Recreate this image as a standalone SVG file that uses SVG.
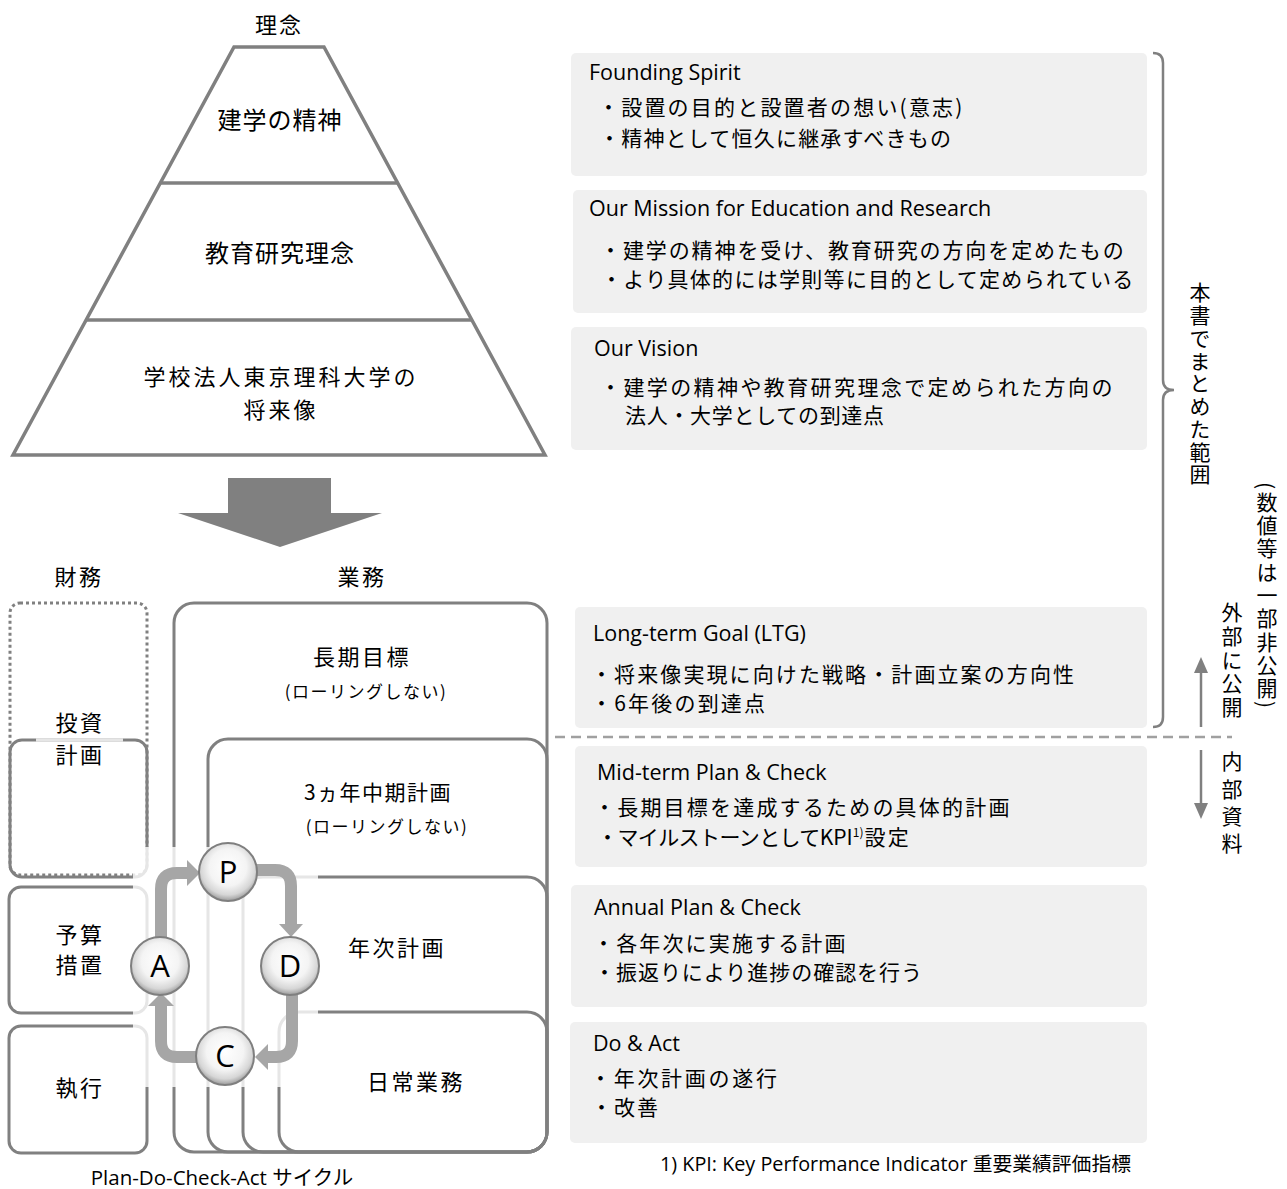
<svg xmlns="http://www.w3.org/2000/svg" width="1287" height="1189" viewBox="0 0 1287 1189">
<defs>
<style>
.pyr{fill:none;stroke:#808080;stroke-width:3.5;stroke-linejoin:miter}
.box{fill:none;stroke:#808080;stroke-width:3}
.dotbox{fill:none;stroke:#808080;stroke-width:3;stroke-dasharray:3 3}
.panel{fill:#f0f0f0}
.jp{font-family:"Noto Sans CJK JP",sans-serif;fill:#000}
.en{font-family:"Open Sans","Noto Sans CJK JP",sans-serif;fill:#000}
.pl{font-size:24px;letter-spacing:1px;text-anchor:middle}
.pl2{font-size:22px;letter-spacing:3px;text-anchor:middle}
.bl{font-size:22px;letter-spacing:2.5px;text-anchor:middle}
.sub{font-size:17px;letter-spacing:1.5px;text-anchor:middle}
.hd{font-size:21.5px}
.li{font-size:21px}
.flow{fill:none;stroke:#a6a6a6;stroke-width:12}
.head{fill:#a6a6a6}
.ball{fill:url(#ballGrad);stroke:#7f7f7f;stroke-width:2}
.pd{font-size:31px;text-anchor:middle}
.vt{font-size:21px;writing-mode:vertical-rl}
.gar{fill:#808080}
</style>
<radialGradient id="ballGrad" cx="50%" cy="42%" r="58%">
<stop offset="0" stop-color="#ffffff"/>
<stop offset="0.55" stop-color="#f4f4f4"/>
<stop offset="0.82" stop-color="#d6d6d6"/>
<stop offset="1" stop-color="#9a9a9a"/>
</radialGradient>
</defs>
<rect x="0" y="0" width="1287" height="1189" fill="#fff"/>

<!-- Pyramid -->
<g id="pyramid">
<text class="jp" x="279" y="33" font-size="22" letter-spacing="2" text-anchor="middle">理念</text>
<polygon class="pyr" points="234,47 324,47 545,455 13,455"/>
<line class="pyr" x1="161" y1="183" x2="397" y2="183"/>
<line class="pyr" x1="87" y1="320" x2="471" y2="320"/>
</g>
<g id="node-spirit"><text class="jp pl" x="280" y="129">建学の精神</text></g>
<g id="node-mission"><text class="jp pl" x="280" y="262">教育研究理念</text></g>
<g id="node-vision"><text class="jp pl2" x="281" y="385">学校法人東京理科大学の</text><text class="jp pl2" x="281" y="418">将来像</text></g>

<g id="big-arrow"><polygon class="gar" points="228,478 331,478 331,513 382,513 280,547 178,513 228,513"/></g>

<!-- column labels -->
<text class="jp bl" x="79" y="585">財務</text>
<text class="jp bl" x="362" y="585">業務</text>

<!-- Finance column -->
<g id="node-invest">
<rect class="dotbox" x="10" y="603" width="137" height="272" rx="10"/>
<rect class="box" x="10" y="740" width="137" height="137" rx="12"/>
<line x1="36" y1="740" x2="123" y2="740" stroke="#e6e6e6" stroke-width="3.5"/>
<text class="jp bl" x="80" y="731">投資</text>
<text class="jp bl" x="80" y="763">計画</text>
</g>
<g id="node-budget">
<rect class="box" x="9" y="887" width="138" height="126" rx="12"/>
<text class="jp bl" x="80" y="943">予算</text>
<text class="jp bl" x="80" y="973">措置</text>
</g>
<g id="node-exec">
<rect class="box" x="9" y="1026" width="138" height="127" rx="12"/>
<text class="jp bl" x="80" y="1096">執行</text>
</g>

<!-- Business column -->
<g id="node-ltg">
<rect class="box" x="174" y="603" width="373" height="549" rx="20"/>
<text class="jp bl" x="362" y="665">長期目標</text>
<text class="jp sub" x="366" y="698">(ローリングしない)</text>
</g>
<g id="node-mtp">
<rect class="box" x="208" y="739" width="339" height="413" rx="20"/>
<text class="jp" x="378" y="800" font-size="21" letter-spacing="1.5" text-anchor="middle">3ヵ年中期計画</text>
<text class="jp sub" x="387" y="833">(ローリングしない)</text>
</g>
<g id="node-annual">
<rect class="box" x="243" y="877" width="304" height="275" rx="20"/>
<text class="jp bl" x="397" y="956">年次計画</text>
</g>
<g id="node-daily">
<rect class="box" x="279" y="1012" width="268" height="140" rx="20"/>
<text class="jp bl" x="416" y="1090">日常業務</text>
</g>

<!-- fade of box outlines under PDCA cycle -->
<rect x="133" y="847" width="185" height="240" fill="#fff" opacity="0.8"/>

<!-- PDCA connectors -->
<g id="connectors">
<path class="flow" d="M161,937 V889 Q161,873 177,873 H188"/>
<polygon class="head" points="187,860 200,873 187,886"/>
<path class="flow" d="M257,870 H275 Q291,870 291,886 V925"/>
<polygon class="head" points="279,924 303,924 291,937"/>
<path class="flow" d="M292,995 V1041 Q292,1057 276,1057 H267"/>
<polygon class="head" points="268,1044 268,1070 255,1057"/>
<path class="flow" d="M197,1057 H177 Q161,1057 161,1041 V1006"/>
<polygon class="head" points="148,1006 174,1006 161,993"/>
</g>

<g id="node-P"><circle class="ball" cx="228" cy="872" r="29"/><text class="en pd" x="228" y="883">P</text></g>
<g id="node-A"><circle class="ball" cx="160" cy="966" r="29"/><text class="en pd" x="160" y="977">A</text></g>
<g id="node-D"><circle class="ball" cx="290" cy="966" r="29"/><text class="en pd" x="290" y="977">D</text></g>
<g id="node-C"><circle class="ball" cx="225" cy="1056" r="29"/><text class="en pd" x="225" y="1067">C</text></g>

<text class="en" x="222" y="1185" font-size="20.5" text-anchor="middle">Plan-Do-Check-Act サイクル</text>

<!-- Right panels -->
<g id="panel-founding">
<rect class="panel" x="571" y="53" width="576" height="123" rx="5"/>
<text class="en hd" x="589" y="80">Founding Spirit</text>
<text class="jp li" x="598" y="115" letter-spacing="2.2">・設置の目的と設置者の想い(意志)</text>
<text class="jp li" x="599" y="146" letter-spacing="1.2">・精神として恒久に継承すべきもの</text>
</g>
<g id="panel-mission">
<rect class="panel" x="573" y="190" width="574" height="123" rx="5"/>
<text class="en hd" x="589" y="216">Our Mission for Education and Research</text>
<text class="jp li" x="600" y="258" letter-spacing="1.9">・建学の精神を受け、教育研究の方向を定めたもの</text>
<text class="jp li" x="601" y="287" letter-spacing="1.3">・より具体的には学則等に目的として定められている</text>
</g>
<g id="panel-vision">
<rect class="panel" x="571" y="327" width="576" height="123" rx="5"/>
<text class="en hd" x="594" y="356">Our Vision</text>
<text class="jp li" x="600" y="395" letter-spacing="2.4">・建学の精神や教育研究理念で定められた方向の</text>
<text class="jp li" x="625" y="423" letter-spacing="0.7">法人・大学としての到達点</text>
</g>
<g id="panel-ltg">
<rect class="panel" x="575" y="607" width="572" height="121" rx="5"/>
<text class="en hd" x="593" y="641">Long-term Goal (LTG)</text>
<text class="jp li" x="591" y="682" letter-spacing="2.1">・将来像実現に向けた戦略・計画立案の方向性</text>
<text class="jp li" x="591" y="711" letter-spacing="2.2">・6年後の到達点</text>
</g>
<g id="panel-mtp">
<rect class="panel" x="575" y="746" width="572" height="121" rx="5"/>
<text class="en hd" x="597" y="780">Mid-term Plan &amp; Check</text>
<text class="jp li" x="594" y="815" letter-spacing="2.2">・長期目標を達成するための具体的計画</text>
<text class="jp li" x="597" y="845" letter-spacing="-0.6">・マイルストーンとして<tspan letter-spacing="0">KPI</tspan><tspan font-size="12" letter-spacing="0" dy="-8">1)</tspan><tspan dx="1" dy="8" letter-spacing="2.2">設定</tspan></text>
</g>
<g id="panel-annual">
<rect class="panel" x="571" y="885" width="576" height="122" rx="5"/>
<text class="en hd" x="594" y="915">Annual Plan &amp; Check</text>
<text class="jp li" x="593" y="951" letter-spacing="2.15">・各年次に実施する計画</text>
<text class="jp li" x="594" y="980" letter-spacing="0.96">・振返りにより進捗の確認を行う</text>
</g>
<g id="panel-do">
<rect class="panel" x="570" y="1022" width="577" height="121" rx="5"/>
<text class="en hd" x="593" y="1051">Do &amp; Act</text>
<text class="jp li" x="590" y="1086" letter-spacing="2.7">・年次計画の遂行</text>
<text class="jp li" x="591" y="1115" letter-spacing="2">・改善</text>
</g>

<text class="en" x="660" y="1171" font-size="19.8">1) KPI: Key Performance Indicator 重要業績評価指標</text>

<!-- Brace, separator, scope labels -->
<g id="scope">
<path d="M1153,53 Q1163,53 1163,63 V380 Q1163,390 1174,390 Q1163,390 1163,400 V717 Q1163,727 1153,727" fill="none" stroke="#808080" stroke-width="2.5"/>
<text class="jp vt" x="1200" y="282" letter-spacing="1.75">本書でまとめた範囲</text>
<text class="jp vt" x="1267" y="482" font-size="22" letter-spacing="2.3">(数値等は一部非公開)</text>
<text class="jp vt" x="1232" y="602" font-size="22" letter-spacing="2.6">外部に公開</text>
<text class="jp vt" x="1232" y="751" font-size="22" letter-spacing="6.3">内部資料</text>
<line x1="555" y1="737" x2="1232" y2="737" stroke="#a0a0a0" stroke-width="2.5" stroke-dasharray="10 6"/>
<line x1="1201" y1="727" x2="1201" y2="670" stroke="#808080" stroke-width="2.5"/>
<polygon class="gar" points="1201,657 1208,673 1194,673"/>
<line x1="1201" y1="750" x2="1201" y2="806" stroke="#808080" stroke-width="2.5"/>
<polygon class="gar" points="1201,819 1208,803 1194,803"/>
</g>
</svg>
